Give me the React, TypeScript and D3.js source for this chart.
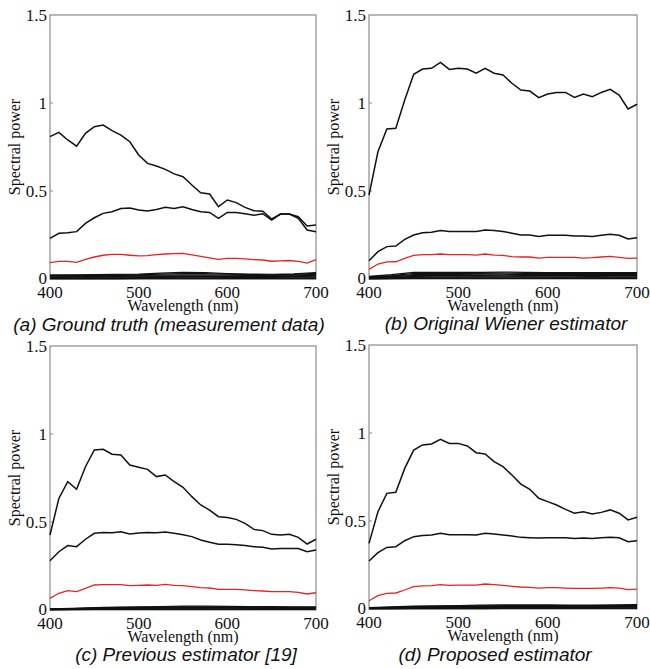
import React from "react";
import * as d3 from "d3";

// wavelength grid of the main curves (nm) and of the low-level bundle
const wavelengths = d3.range(400, 701, 10);
const bundleWavelengths = d3.range(400, 701, 25);

const xTicks = [400, 500, 600, 700];
const yTicks = [0, 0.5, 1, 1.5];
const yTickLabels = ["0", "0.5", "1", "1.5"];

// (a) ground truth
const aHigh = [0.809, 0.833, 0.79, 0.755, 0.828, 0.865, 0.875, 0.843, 0.818, 0.78, 0.705, 0.657, 0.642, 0.623, 0.597, 0.581, 0.534, 0.49, 0.483, 0.411, 0.449, 0.434, 0.407, 0.388, 0.385, 0.341, 0.369, 0.369, 0.354, 0.301, 0.307];
const aMid = [0.231, 0.26, 0.263, 0.269, 0.316, 0.348, 0.373, 0.382, 0.401, 0.404, 0.392, 0.386, 0.395, 0.407, 0.401, 0.411, 0.395, 0.382, 0.378, 0.345, 0.378, 0.378, 0.371, 0.362, 0.371, 0.335, 0.369, 0.369, 0.345, 0.278, 0.269];
const aRed = [0.093, 0.1, 0.1, 0.095, 0.112, 0.125, 0.135, 0.14, 0.14, 0.135, 0.131, 0.133, 0.138, 0.142, 0.144, 0.145, 0.137, 0.128, 0.12, 0.112, 0.117, 0.117, 0.114, 0.11, 0.108, 0.101, 0.103, 0.105, 0.1, 0.09, 0.11];
const aLow = [
  [0.024, 0.024, 0.025, 0.026, 0.028, 0.033, 0.038, 0.036, 0.031, 0.028, 0.027, 0.029, 0.037],
  [0.02, 0.021, 0.021, 0.022, 0.024, 0.028, 0.031, 0.03, 0.027, 0.025, 0.024, 0.026, 0.032],
  [0.016, 0.017, 0.018, 0.019, 0.02, 0.022, 0.024, 0.023, 0.022, 0.021, 0.021, 0.022, 0.026],
  [0.012, 0.013, 0.014, 0.015, 0.016, 0.017, 0.018, 0.018, 0.017, 0.017, 0.017, 0.018, 0.021],
  [0.009, 0.01, 0.01, 0.011, 0.012, 0.013, 0.014, 0.014, 0.013, 0.013, 0.013, 0.014, 0.016],
  [0.006, 0.006, 0.007, 0.007, 0.008, 0.009, 0.01, 0.01, 0.009, 0.009, 0.009, 0.01, 0.011],
  [0.003, 0.003, 0.004, 0.004, 0.004, 0.005, 0.005, 0.005, 0.005, 0.005, 0.005, 0.005, 0.006],
  [0.001, 0.001, 0.001, 0.001, 0.002, 0.002, 0.002, 0.002, 0.002, 0.002, 0.002, 0.002, 0.002],
];

// (b) original Wiener estimator
const bHigh = [0.477, 0.723, 0.852, 0.856, 1.017, 1.163, 1.193, 1.197, 1.231, 1.191, 1.197, 1.193, 1.169, 1.197, 1.169, 1.159, 1.112, 1.074, 1.068, 1.03, 1.051, 1.06, 1.06, 1.032, 1.051, 1.036, 1.06, 1.078, 1.045, 0.966, 0.993];
const bMid = [0.104, 0.155, 0.184, 0.187, 0.225, 0.25, 0.263, 0.265, 0.275, 0.27, 0.27, 0.27, 0.27, 0.278, 0.275, 0.27, 0.26, 0.25, 0.25, 0.242, 0.248, 0.248, 0.248, 0.244, 0.244, 0.242, 0.248, 0.254, 0.248, 0.227, 0.235];
const bRed = [0.055, 0.085, 0.097, 0.098, 0.117, 0.134, 0.138, 0.138, 0.142, 0.138, 0.138, 0.138, 0.136, 0.142, 0.136, 0.134, 0.127, 0.125, 0.125, 0.119, 0.123, 0.123, 0.123, 0.123, 0.119, 0.121, 0.125, 0.129, 0.123, 0.117, 0.119];
const bLow = [
  [0.015, 0.025, 0.038, 0.038, 0.038, 0.038, 0.039, 0.038, 0.037, 0.036, 0.036, 0.036, 0.037],
  [0.012, 0.02, 0.031, 0.032, 0.032, 0.032, 0.033, 0.032, 0.031, 0.031, 0.03, 0.031, 0.031],
  [0.01, 0.016, 0.025, 0.026, 0.026, 0.027, 0.027, 0.026, 0.026, 0.025, 0.025, 0.025, 0.026],
  [0.008, 0.013, 0.02, 0.021, 0.021, 0.021, 0.022, 0.021, 0.021, 0.02, 0.02, 0.02, 0.021],
  [0.006, 0.01, 0.015, 0.016, 0.016, 0.016, 0.017, 0.016, 0.016, 0.016, 0.015, 0.016, 0.016],
  [0.004, 0.007, 0.011, 0.011, 0.011, 0.012, 0.012, 0.012, 0.011, 0.011, 0.011, 0.011, 0.011],
  [0.002, 0.004, 0.006, 0.007, 0.007, 0.007, 0.007, 0.007, 0.007, 0.006, 0.006, 0.006, 0.007],
  [0.001, 0.002, 0.003, 0.003, 0.003, 0.003, 0.003, 0.003, 0.003, 0.003, 0.003, 0.003, 0.003],
];

// (c) previous estimator [19]
const cHigh = [0.426, 0.634, 0.729, 0.686, 0.814, 0.909, 0.913, 0.885, 0.881, 0.824, 0.811, 0.799, 0.758, 0.767, 0.729, 0.697, 0.644, 0.597, 0.568, 0.53, 0.525, 0.515, 0.492, 0.458, 0.451, 0.43, 0.426, 0.43, 0.413, 0.375, 0.402];
const cMid = [0.28, 0.331, 0.366, 0.36, 0.402, 0.436, 0.441, 0.439, 0.445, 0.432, 0.438, 0.441, 0.439, 0.443, 0.436, 0.428, 0.417, 0.398, 0.385, 0.373, 0.373, 0.371, 0.366, 0.36, 0.356, 0.347, 0.349, 0.35, 0.349, 0.331, 0.341];
const cRed = [0.066, 0.095, 0.11, 0.104, 0.123, 0.142, 0.144, 0.144, 0.144, 0.138, 0.14, 0.142, 0.14, 0.146, 0.14, 0.138, 0.133, 0.127, 0.125, 0.117, 0.117, 0.117, 0.114, 0.11, 0.108, 0.104, 0.104, 0.104, 0.1, 0.091, 0.098];
const cLow = [
  [0.006, 0.01, 0.014, 0.016, 0.018, 0.02, 0.022, 0.022, 0.021, 0.02, 0.019, 0.018, 0.018],
  [0.005, 0.008, 0.011, 0.013, 0.015, 0.016, 0.018, 0.018, 0.017, 0.016, 0.015, 0.015, 0.015],
  [0.004, 0.006, 0.009, 0.01, 0.012, 0.013, 0.014, 0.014, 0.013, 0.013, 0.012, 0.012, 0.012],
  [0.003, 0.005, 0.007, 0.008, 0.009, 0.01, 0.011, 0.011, 0.01, 0.01, 0.009, 0.009, 0.009],
  [0.002, 0.003, 0.005, 0.005, 0.006, 0.007, 0.007, 0.007, 0.007, 0.007, 0.006, 0.006, 0.006],
  [0.001, 0.002, 0.003, 0.003, 0.003, 0.004, 0.004, 0.004, 0.004, 0.004, 0.003, 0.003, 0.003],
];

// (d) proposed estimator
const dHigh = [0.373, 0.553, 0.657, 0.663, 0.799, 0.903, 0.932, 0.938, 0.964, 0.941, 0.941, 0.926, 0.888, 0.881, 0.837, 0.809, 0.761, 0.71, 0.68, 0.629, 0.61, 0.591, 0.566, 0.544, 0.553, 0.54, 0.549, 0.563, 0.544, 0.506, 0.521];
const dMid = [0.273, 0.32, 0.35, 0.354, 0.388, 0.411, 0.418, 0.42, 0.43, 0.422, 0.422, 0.422, 0.42, 0.43, 0.426, 0.42, 0.415, 0.407, 0.405, 0.403, 0.405, 0.405, 0.405, 0.4, 0.403, 0.4, 0.405, 0.407, 0.405, 0.382, 0.388];
const dRed = [0.047, 0.076, 0.089, 0.091, 0.108, 0.127, 0.131, 0.133, 0.138, 0.134, 0.136, 0.136, 0.136, 0.142, 0.138, 0.134, 0.129, 0.125, 0.123, 0.119, 0.121, 0.121, 0.119, 0.117, 0.117, 0.117, 0.119, 0.121, 0.119, 0.11, 0.113];
const dLow = [
  [0.008, 0.012, 0.016, 0.018, 0.02, 0.022, 0.024, 0.024, 0.023, 0.022, 0.022, 0.023, 0.025],
  [0.006, 0.01, 0.013, 0.015, 0.017, 0.018, 0.02, 0.02, 0.019, 0.019, 0.019, 0.02, 0.021],
  [0.005, 0.008, 0.011, 0.012, 0.014, 0.015, 0.016, 0.016, 0.016, 0.016, 0.016, 0.017, 0.018],
  [0.004, 0.006, 0.008, 0.009, 0.011, 0.012, 0.013, 0.013, 0.013, 0.013, 0.013, 0.013, 0.014],
  [0.003, 0.004, 0.006, 0.007, 0.008, 0.009, 0.009, 0.009, 0.009, 0.009, 0.009, 0.01, 0.01],
  [0.002, 0.003, 0.004, 0.004, 0.005, 0.005, 0.006, 0.006, 0.006, 0.006, 0.006, 0.006, 0.006],
  [0.001, 0.001, 0.002, 0.002, 0.002, 0.002, 0.003, 0.003, 0.003, 0.003, 0.003, 0.003, 0.003],
];

const captions = [
  "(a) Ground truth (measurement data)",
  "(b) Original Wiener estimator",
  "(c) Previous estimator [19]",
  "(d) Proposed estimator",
];

const panels = [
  { left: 50, right: 316, top: 15, bottom: 279, capX: 169, capY: 331, high: aHigh, mid: aMid, red: aRed, low: aLow },
  { left: 369, right: 637, top: 15, bottom: 279, capX: 506, capY: 330, high: bHigh, mid: bMid, red: bRed, low: bLow },
  { left: 50, right: 316, top: 346, bottom: 610, capX: 186, capY: 661, high: cHigh, mid: cMid, red: cRed, low: cLow },
  { left: 369, right: 637, top: 345, bottom: 609, capX: 495, capY: 661, high: dHigh, mid: dMid, red: dRed, low: dLow },
];

const serif = "'Liberation Serif', 'Times New Roman', serif";
const sans = "'Liberation Sans', Arial, sans-serif";
const frameColor = "#8a8a8a";

function Panel({ p, caption }: { p: any; caption: string }) {
  const x = d3.scaleLinear().domain([400, 700]).range([p.left, p.right]);
  const y = d3.scaleLinear().domain([0, 1.5]).range([p.bottom, p.top]);

  const line = d3
    .line<number>()
    .x((d, i) => x(wavelengths[i]))
    .y(d => y(d));
  const lowLine = d3
    .line<number>()
    .x((d, i) => x(bundleWavelengths[i]))
    .y(d => y(d));

  const midX = (p.left + p.right) / 2;
  const midY = (p.top + p.bottom) / 2;

  return (
    <g>
      {/* frame */}
      <rect
        x={p.left}
        y={p.top}
        width={p.right - p.left}
        height={p.bottom - p.top}
        fill="none"
        stroke={frameColor}
        strokeWidth={1.2}
      />
      {/* small inner ticks */}
      {yTicks.slice(1, 3).map(t => (
        <line key={"yt" + t} x1={p.left} x2={p.left + 3} y1={y(t)} y2={y(t)} stroke={frameColor} />
      ))}
      {xTicks.slice(1, 3).map(t => (
        <line key={"xt" + t} x1={x(t)} x2={x(t)} y1={p.bottom} y2={p.bottom - 3} stroke={frameColor} />
      ))}

      {/* low-level bundle */}
      {p.low.map((s: number[], i: number) => (
        <path key={"low" + i} d={lowLine(s) || ""} fill="none" stroke="#111" strokeWidth={1.2} />
      ))}
      <path d={line(p.red) || ""} fill="none" stroke="#e8231f" strokeWidth={1.3} />
      <path d={line(p.mid) || ""} fill="none" stroke="#111" strokeWidth={1.5} />
      <path d={line(p.high) || ""} fill="none" stroke="#111" strokeWidth={1.5} />

      {/* tick labels */}
      {yTicks.map((t, i) => (
        <text
          key={"yl" + t}
          x={p.left - 3}
          y={y(t) + (t === 0 ? 4.5 : 6)}
          textAnchor="end"
          fontFamily={serif}
          fontSize={17}
          fill="#111"
        >
          {yTickLabels[i]}
        </text>
      ))}
      {xTicks.map(t => (
        <text
          key={"xl" + t}
          x={x(t)}
          y={p.bottom + 18.5}
          textAnchor="middle"
          fontFamily={serif}
          fontSize={17}
          fill="#111"
        >
          {t}
        </text>
      ))}

      {/* axis titles */}
      <text x={midX} y={p.bottom + 31.5} textAnchor="middle" fontFamily={serif} fontSize={16} fill="#111">
        Wavelength (nm)
      </text>
      <text
        transform={`translate(${p.left - 30},${midY}) rotate(-90)`}
        textAnchor="middle"
        fontFamily={serif}
        fontSize={16}
        fill="#111"
      >
        Spectral power
      </text>

      {/* caption */}
      <text x={p.capX} y={p.capY} textAnchor="middle" fontFamily={sans} fontStyle="italic" fontSize={19} fill="#111">
        {caption}
      </text>
    </g>
  );
}

export default function App() {
  return (
    <svg
      width={650}
      height={669}
      style={{ position: "absolute", left: 0, top: 0, background: "#fff" }}
    >
      {panels.map((p, i) => (
        <Panel key={i} p={p} caption={captions[i]} />
      ))}
    </svg>
  );
}
